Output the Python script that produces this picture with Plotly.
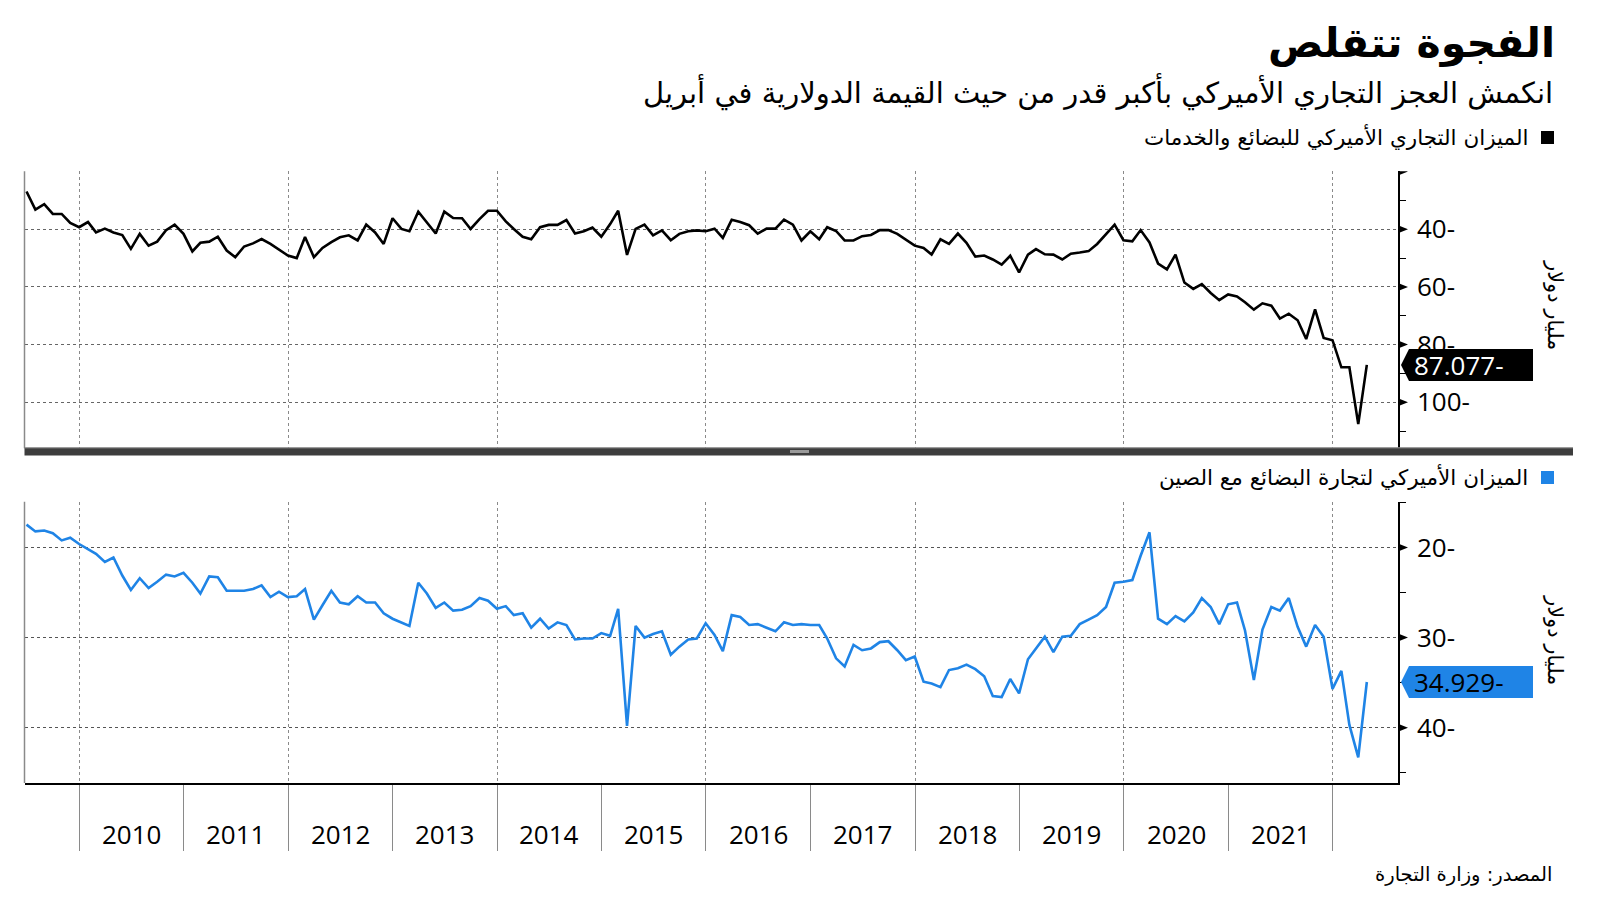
import pandas as pd
import plotly.graph_objects as go

# ---------------- DATA ----------------
dates = pd.date_range("2009-06-30", periods=155, freq="ME")

total_balance = [
    -26.9, -33.2, -31.3, -34.7, -34.7, -37.8, -39.3, -37.5, -41.1, -39.8,
    -41.1, -42.0, -46.8, -41.6, -45.7, -44.3, -40.3, -38.4, -41.6, -47.7,
    -44.7, -44.3, -42.6, -47.4, -49.7, -46.0, -44.9, -43.4, -45.1, -47.0,
    -49.1, -50.0, -42.7, -49.7, -46.5, -44.5, -42.8, -42.1, -43.9, -38.4,
    -41.1, -45.1, -36.2, -39.9, -40.7, -33.9, -37.8, -41.5, -33.9, -36.1,
    -36.2, -39.9, -36.5, -33.6, -33.6, -37.3, -39.9, -42.6, -43.5, -39.3,
    -38.5, -38.5, -36.8, -41.5, -40.7, -39.4, -42.6, -38.2, -33.6, -48.9,
    -39.9, -38.4, -42.1, -40.4, -43.8, -41.6, -40.7, -40.4,
    -40.7, -39.8, -43.0, -36.7, -37.5, -38.6, -41.5, -39.8, -39.8, -36.7,
    -38.4, -43.9, -40.7, -43.5, -39.3, -40.6, -43.9, -43.9, -42.4, -42.0,
    -40.3, -40.3, -41.6, -43.7, -45.7, -46.5, -48.8, -43.5, -45.1, -41.5,
    -44.7, -49.5, -49.1, -50.5, -52.3, -49.2, -55.0, -48.8, -46.9, -48.7,
    -48.8, -50.5, -48.5, -48.1, -47.6, -45.1, -41.7, -38.4, -43.8, -44.2,
    -40.3, -44.6, -51.9, -53.9, -48.8, -58.5, -60.7, -59.0, -62.1, -64.6,
    -62.6, -63.3, -65.3, -67.9, -65.7, -66.5, -71.0, -69.3, -71.6, -78.1,
    -67.8, -77.7, -78.5, -87.9, -87.9, -107.6, -87.077,
]

china_balance = [
    -17.45, -18.2, -18.1, -18.4, -19.2, -18.9, -19.6, -20.2, -20.7, -21.6,
    -21.1, -23.1, -24.7, -23.4, -24.5, -23.8, -23.0, -23.2, -22.8, -23.9,
    -25.1, -23.2, -23.3, -24.8, -24.8, -24.8, -24.6, -24.2, -25.5, -24.9,
    -25.5, -25.4, -24.6, -28.0, -26.4, -24.8, -26.1, -26.3, -25.4, -26.1,
    -26.1, -27.3, -27.9, -28.3, -28.7, -23.9, -25.1, -26.7, -26.1, -27.0,
    -26.9, -26.5, -25.6, -25.9, -26.8, -26.5, -27.5, -27.3, -28.9, -27.9,
    -29.0, -28.3, -28.6, -30.2, -30.1, -30.1, -29.5, -29.8, -26.8, -39.8,
    -28.7, -30.0, -29.6, -29.3, -31.9, -31.0, -30.2, -30.1,
    -28.4, -29.7, -31.5, -27.5, -27.7, -28.6, -28.5, -28.9, -29.3, -28.3,
    -28.6, -28.5, -28.6, -28.6, -30.1, -32.3, -33.2, -30.8, -31.4, -31.2,
    -30.5, -30.4, -31.4, -32.5, -32.1, -34.9, -35.1, -35.5, -33.6, -33.4,
    -33.0, -33.5, -34.3, -36.5, -36.6, -34.6, -36.2, -32.4, -31.2, -29.9,
    -31.6, -29.9, -29.8, -28.5, -28.0, -27.5, -26.6, -23.9, -23.8, -23.6,
    -20.9, -18.3, -27.9, -28.5, -27.6, -28.2, -27.2, -25.6, -26.6, -28.5,
    -26.3, -26.1, -29.2, -34.7, -29.1, -26.6, -27.0, -25.6, -28.8, -31.0,
    -28.6, -29.9, -35.7, -33.7, -39.7, -43.3, -34.929,
]

years = [2010, 2011, 2012, 2013, 2014, 2015, 2016, 2017, 2018, 2019, 2020, 2021]

top_tickvals = [-20, -40, -60, -80, -100]
top_ticktext = ["", "40-", "60-", "80-", "100-"]
top_minor = [-30, -50, -70, -90, -110]
bot_tickvals = [-20, -30, -40]
bot_ticktext = ["20-", "30-", "40-"]
bot_minor = [-15, -25, -35, -45]

title = "الفجوة تتقلص"
subtitle = "انكمش العجز التجاري الأميركي بأكبر قدر من حيث القيمة الدولارية في أبريل"
legend_total = "الميزان التجاري الأميركي للبضائع والخدمات"
legend_china = "الميزان الأميركي لتجارة البضائع مع الصين"
unit_label = "مليار دولار"
source = "المصدر: وزارة التجارة"

BLACK = "#000000"
BLUE = "#1f84e6"

# ---------------- LAYOUT HELPERS ----------------
W, H = 1600, 901
def xp(px):
    return px / W
def yp(py):
    return 1 - py / H

X_LEFT, X_RIGHT = 24.5, 1398
TOP_T, TOP_B = 171.3, 448.3
BOT_T, BOT_B = 501.7, 783.0
ARABIC = "DejaVu Sans"
NUM = "Open Sans"

fig = go.Figure()
fig.add_trace(go.Scatter(x=dates, y=total_balance, mode="lines",
                         line=dict(color=BLACK, width=2.6),
                         xaxis="x", yaxis="y", showlegend=False, hoverinfo="skip"))
fig.add_trace(go.Scatter(x=dates, y=china_balance, mode="lines",
                         line=dict(color=BLUE, width=2.6),
                         xaxis="x2", yaxis="y2", showlegend=False, hoverinfo="skip"))

xrange = ["2009-06-23", "2022-08-17"]
grid_common = dict(griddash="dot", gridwidth=1.3)

fig.update_layout(
    width=W, height=H,
    margin=dict(l=0, r=0, t=0, b=0),
    paper_bgcolor="white", plot_bgcolor="white",
    xaxis=dict(domain=[xp(X_LEFT), xp(X_RIGHT)], anchor="y", type="date",
               range=xrange, tick0="2010-01-01", dtick="M24",
               showgrid=True, gridcolor="#8a8a8a", **grid_common,
               showticklabels=False, ticks="", showline=False, zeroline=False),
    yaxis=dict(domain=[yp(TOP_B), yp(TOP_T)], anchor="x", side="right",
               range=[-116, -19.9], tickmode="array",
               tickvals=top_tickvals, ticktext=top_ticktext,
               showgrid=True, gridcolor="#666666", **grid_common,
               ticks="outside", ticklen=12, tickcolor="rgba(0,0,0,0)",
               tickfont=dict(family=NUM, size=26, color="black"),
               showline=True, linecolor="black", linewidth=1.5, zeroline=False,
               minor=dict(tickmode="array", tickvals=top_minor, ticks="outside",
                          ticklen=6, tickcolor="black", tickwidth=1, showgrid=False)),
    xaxis2=dict(domain=[xp(X_LEFT), xp(X_RIGHT)], anchor="y2", type="date",
                range=xrange, tick0="2010-01-01", dtick="M24",
                showgrid=True, gridcolor="#8a8a8a", **grid_common,
                showticklabels=False, ticks="outside", ticklen=66,
                tickcolor="#8a8a8a", tickwidth=1.2,
                minor=dict(tick0="2010-01-01", dtick="M12", ticks="outside",
                           ticklen=66, tickcolor="#8a8a8a", tickwidth=1.2,
                           showgrid=False),
                showline=True, linecolor="black", linewidth=1.5, zeroline=False),
    yaxis2=dict(domain=[yp(BOT_B), yp(BOT_T)], anchor="x2", side="right",
                range=[-46.15, -14.9], tickmode="array",
                tickvals=bot_tickvals, ticktext=bot_ticktext,
                showgrid=True, gridcolor="#555555", **grid_common,
                ticks="outside", ticklen=12, tickcolor="rgba(0,0,0,0)",
                tickfont=dict(family=NUM, size=26, color="black"),
                showline=True, linecolor="black", linewidth=1.5, zeroline=False,
                minor=dict(tickmode="array", tickvals=bot_minor, ticks="outside",
                           ticklen=6, tickcolor="black", tickwidth=1, showgrid=False)),
)

shapes = []
annotations = []

# arrow ticks at the major ticks on the right axes
for yref, vals in (("y", top_tickvals), ("y2", bot_tickvals)):
    for v in vals:
        shapes.append(dict(type="path", xref="paper", yref=yref,
                           xsizemode="pixel", ysizemode="pixel",
                           xanchor=xp(X_RIGHT), yanchor=v,
                           path="M 0,-4 L 10,0 L 0,4 Z",
                           fillcolor="black", line=dict(width=0)))

# left borders
for t, b in ((TOP_T, TOP_B), (BOT_T, BOT_B)):
    shapes.append(dict(type="line", xref="paper", yref="paper",
                       x0=xp(X_LEFT), x1=xp(X_LEFT), y0=yp(t), y1=yp(b),
                       line=dict(color="#8a8a8a", width=1.5)))

# separator bar between panels
shapes.append(dict(type="rect", xref="paper", yref="paper",
                   x0=xp(24.5), x1=xp(1573), y0=yp(455.5), y1=yp(447.5),
                   fillcolor="#3d3d3d", line=dict(width=0)))
shapes.append(dict(type="line", xref="paper", yref="paper",
                   x0=xp(24.5), x1=xp(1573), y0=yp(447.8), y1=yp(447.8),
                   line=dict(color="#9a9a9a", width=1)))
shapes.append(dict(type="rect", xref="paper", yref="paper",
                   x0=xp(790), x1=xp(809), y0=yp(453), y1=yp(450),
                   fillcolor="#9a9a9a", line=dict(width=0)))

# last-value tags
for yref, val, fill, fcol in (("y", total_balance[-1], "black", "white"),
                              ("y2", china_balance[-1], BLUE, "black")):
    shapes.append(dict(type="path", xref="paper", yref=yref,
                       xsizemode="pixel", ysizemode="pixel",
                       xanchor=xp(X_RIGHT), yanchor=val,
                       path="M 3,0 L 11,16 L 135,16 L 135,-16 L 11,-16 Z",
                       fillcolor=fill, line=dict(width=0)))
    annotations.append(dict(xref="paper", yref=yref, x=xp(1412), y=val,
                            xanchor="left", yanchor="middle", showarrow=False,
                            text=f"{abs(val):.3f}-",
                            font=dict(family=NUM, size=26, color=fcol)))

# legend squares
shapes.append(dict(type="rect", xref="paper", yref="paper",
                   x0=xp(1541), x1=xp(1554), y0=yp(144), y1=yp(131),
                   fillcolor="black", line=dict(width=0)))
shapes.append(dict(type="rect", xref="paper", yref="paper",
                   x0=xp(1541), x1=xp(1554), y0=yp(484), y1=yp(471),
                   fillcolor=BLUE, line=dict(width=0)))

# year labels centred in each year
for yr in years:
    annotations.append(dict(xref="x2", yref="paper", x=f"{yr}-07-02", y=yp(834),
                            xanchor="center", yanchor="middle", showarrow=False,
                            text=str(yr), font=dict(family=NUM, size=26, color="black")))

# texts
annotations += [
    dict(xref="paper", yref="paper", x=xp(1557), y=yp(43), xanchor="right",
         yanchor="middle", showarrow=False, text=f"<b>{title}</b>",
         font=dict(family=ARABIC, size=41, color="black")),
    dict(xref="paper", yref="paper", x=xp(1555), y=yp(91), xanchor="right",
         yanchor="middle", showarrow=False, text=subtitle,
         font=dict(family=ARABIC, size=29, color="black")),
    dict(xref="paper", yref="paper", x=xp(1530), y=yp(137), xanchor="right",
         yanchor="middle", showarrow=False, text=legend_total,
         font=dict(family=ARABIC, size=21.5, color="black")),
    dict(xref="paper", yref="paper", x=xp(1530), y=yp(477), xanchor="right",
         yanchor="middle", showarrow=False, text=legend_china,
         font=dict(family=ARABIC, size=21.5, color="black")),
    dict(xref="paper", yref="paper", x=xp(1555), y=yp(305), xanchor="center",
         yanchor="middle", showarrow=False, text=unit_label, textangle=90,
         font=dict(family=ARABIC, size=21, color="black")),
    dict(xref="paper", yref="paper", x=xp(1555), y=yp(640), xanchor="center",
         yanchor="middle", showarrow=False, text=unit_label, textangle=90,
         font=dict(family=ARABIC, size=21, color="black")),
    dict(xref="paper", yref="paper", x=xp(1554), y=yp(874), xanchor="right",
         yanchor="middle", showarrow=False, text=source,
         font=dict(family=ARABIC, size=19.5, color="black")),
]

fig.update_layout(shapes=shapes, annotations=annotations)
fig.write_html("out.html")
